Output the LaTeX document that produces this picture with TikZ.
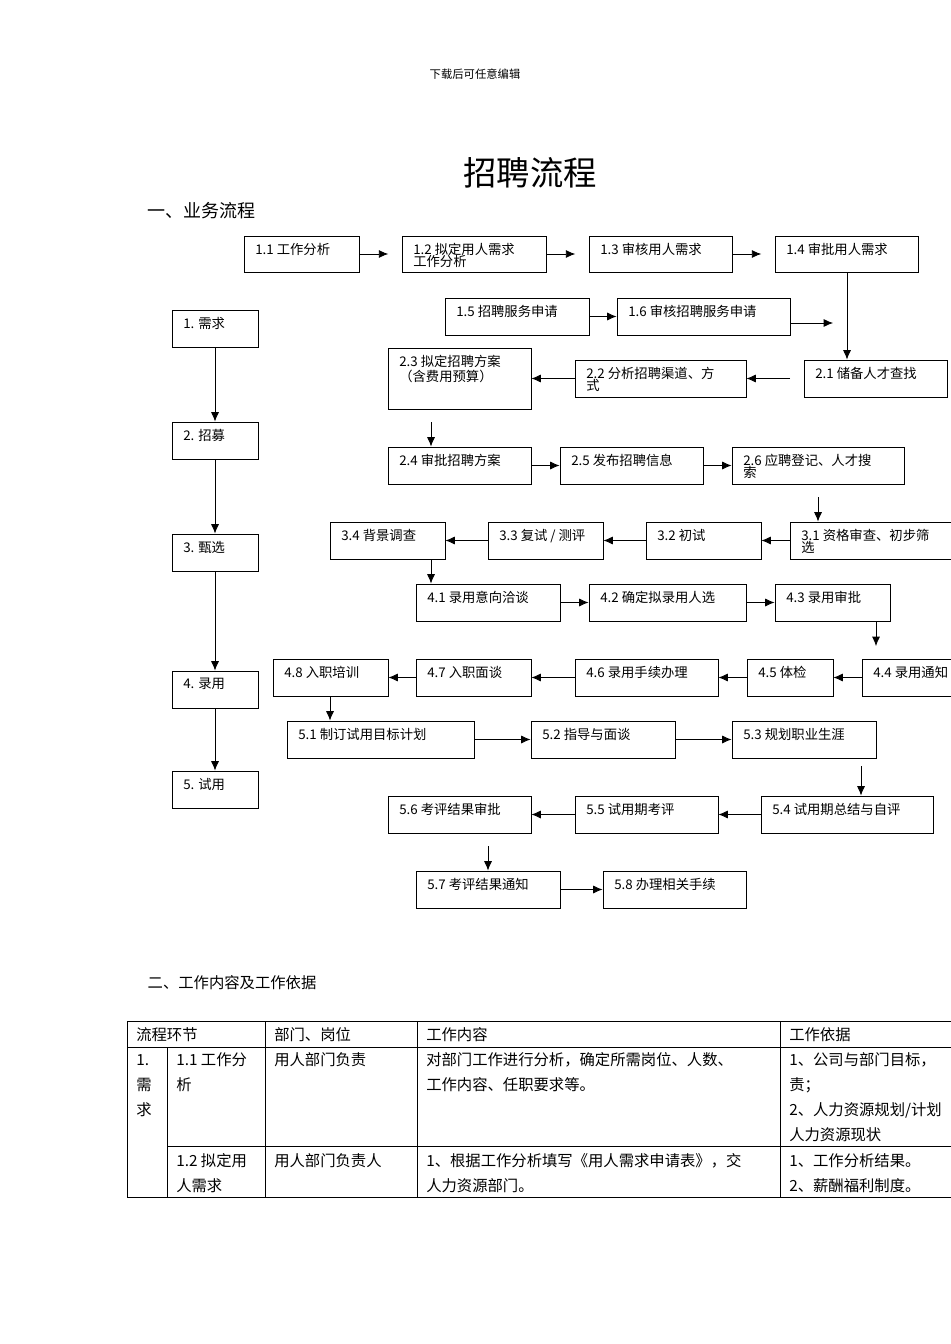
\documentclass[tikz,border=0pt]{standalone}
\usepackage{fontspec}
\setmainfont{Noto Sans CJK SC}
\usetikzlibrary{fit,calc}
\tikzset{arr/.style={-{Latex[length=7pt,width=6pt]},line width=0.6pt},
 boxs/.style={draw,line width=0.7pt,inner sep=0pt},
 btxt/.style={anchor=north west,inner sep=0pt,font=\fontsize{10}{11}\selectfont,align=left},
 ttxt/.style={anchor=base west,inner sep=0pt,font=\fontsize{11.5}{12}\selectfont}}
\usetikzlibrary{arrows.meta}
\newcommand\bx[6]{\path (#2,#3) coordinate (#1nw) (#4,#5) coordinate (#1se);
 \node[boxs,fit=(#1nw)(#1se)] (#1) {};
 \node[btxt] at (#2+11,#3+7) {#6};}
\begin{document}
\begin{tikzpicture}[x=0.75pt,y=-0.75pt]
\useasboundingbox (0,0) rectangle (950,1344);
\node[font=\fontsize{8.5}{9}\selectfont] (hdr) at (475,74) {下载后可任意编辑};
\node[font=\fontsize{25}{26}\selectfont] (title) at (530,173) {招聘流程};
\node[anchor=west,font=\fontsize{13.5}{14}\selectfont] (s1) at (143,211) {一、业务流程};
\node[anchor=west,font=\fontsize{11.5}{12}\selectfont] (s2) at (143,983) {二、工作内容及工作依据};
% left column
\bx{a1}{172}{310}{258}{347}{1. 需求}
\bx{a2}{172}{422}{258}{459}{2. 招募}
\bx{a3}{172}{534}{258}{571}{3. 甄选}
\bx{a4}{172}{671}{258}{708}{4. 录用}
\bx{a5}{172}{771}{258}{808}{5. 试用}
\foreach \p/\q in {a1/a2,a2/a3,a3/a4,a4/a5} \draw[arr] (\p) -- (\q);
% row 1
\bx{b11}{244}{236}{359}{272}{1.1 工作分析}
\bx{b12}{402}{236}{546}{272}{1.2 拟定用人需求\\[-2pt]工作分析}
\bx{b13}{589}{236}{732}{272}{1.3 审核用人需求}
\bx{b14}{775}{236}{918}{272}{1.4 审批用人需求}
\draw[arr,shorten >=10pt] (b11) -- (b12);
\draw[arr,shorten >=10pt] (b12) -- (b13);
\draw[arr,shorten >=10pt] (b13) -- (b14);
\bx{b15}{445}{298}{589}{335}{1.5 招聘服务申请}
\bx{b16}{617}{298}{790}{335}{1.6 审核招聘服务申请}
\coordinate (e16) at (833,323);
\draw[arr] (b15) -- (b16);
\draw[arr] (b16.east|-e16) -- (e16);
% row 2
\bx{b21}{804}{360}{947}{397}{2.1 储备人才查找}
\bx{b22}{575}{360}{746}{397}{2.2 分析招聘渠道、方\\[-2pt]式}
\bx{b23}{388}{348}{531}{409}{2.3 拟定招聘方案\\（含费用预算）}
\draw[arr] (b14.south-|847,0) -- (b21.north-|847,0);
\draw[arr,shorten <=10pt] (b21.west|-b22.east) -- (b22.east);
\draw[arr] (b22.west) -- (b22.west-|b23.east);
\coordinate (c23) at (431,422);
\bx{b24}{388}{447}{531}{484}{2.4 审批招聘方案}
\bx{b25}{560}{447}{703}{484}{2.5 发布招聘信息}
\bx{b26}{732}{447}{904}{484}{2.6 应聘登记、人才搜\\[-2pt]索}
\draw[arr] (c23) -- (c23|-b24.north);
\draw[arr] (b24) -- (b25);
\draw[arr] (b25) -- (b26);
% row 3
\coordinate (c26) at (818,497);
\bx{b31}{790}{522}{960}{559}{3.1 资格审查、初步筛\\[-2pt]选}
\bx{b32}{646}{522}{761}{559}{3.2 初试}
\bx{b33}{488}{522}{603}{559}{3.3 复试 / 测评}
\bx{b34}{330}{522}{445}{559}{3.4 背景调查}
\draw[arr] (c26) -- (c26|-b31.north);
\draw[arr] (b31.west|-b32.east) -- (b32.east);
\draw[arr] (b32) -- (b33);
\draw[arr] (b33) -- (b34);
% row 4
\bx{b41}{416}{584}{560}{621}{4.1 录用意向洽谈}
\bx{b42}{589}{584}{746}{621}{4.2 确定拟录用人选}
\bx{b43}{775}{584}{890}{621}{4.3 录用审批}
\draw[arr] (b34.south-|431,0) -- (b41.north-|431,0);
\draw[arr] (b41) -- (b42);
\draw[arr] (b42) -- (b43);
\bx{b44}{862}{659}{990}{696}{4.4 录用通知}
\bx{b45}{747}{659}{833}{696}{4.5 体检}
\bx{b46}{575}{659}{718}{696}{4.6 录用手续办理}
\bx{b47}{416}{659}{531}{696}{4.7 入职面谈}
\bx{b48}{273}{659}{388}{696}{4.8 入职培训}
\coordinate (c43) at (876,646);
\draw[arr] (b43.south-|c43) -- (c43);
\draw[arr] (b44.west|-b45.east) -- (b45.east);
\draw[arr] (b45) -- (b46);
\draw[arr] (b46) -- (b47);
\draw[arr] (b47) -- (b48);
% row 5
\bx{b51}{287}{721}{474}{758}{5.1 制订试用目标计划}
\bx{b52}{531}{721}{675}{758}{5.2 指导与面谈}
\bx{b53}{732}{721}{876}{758}{5.3 规划职业生涯}
\draw[arr] (b48.south-|330,0) -- (b51.north-|330,0);
\draw[arr] (b51) -- (b52);
\draw[arr] (b52) -- (b53);
\bx{b54}{761}{796}{933}{833}{5.4 试用期总结与自评}
\bx{b55}{575}{796}{718}{833}{5.5 试用期考评}
\bx{b56}{388}{796}{531}{833}{5.6 考评结果审批}
\coordinate (c53) at (861,766);
\draw[arr] (c53) -- (c53|-b54.north);
\draw[arr] (b54) -- (b55);
\draw[arr] (b55) -- (b56);
\bx{b57}{416}{871}{560}{908}{5.7 考评结果通知}
\bx{b58}{603}{871}{746}{908}{5.8 办理相关手续}
\coordinate (c56) at (488,846);
\draw[arr] (c56) -- (c56|-b57.north);
\draw[arr] (b57) -- (b58);
% table
\begin{scope}[line width=0.6pt]
\draw (990,1021) -- (127,1021) -- (127,1197) -- (990,1197);
\draw (127,1047) -- (990,1047);
\draw (167,1146) -- (990,1146);
\draw (167,1047) -- (167,1197);
\foreach \x in {265,417,780} \draw (\x,1021) -- (\x,1197);
\end{scope}
\node[ttxt] (h1) at (136,1040) {流程环节};
\node[ttxt] (h2) at (274,1040) {部门、岗位};
\node[ttxt] (h3) at (426,1040) {工作内容};
\node[ttxt] (h4) at (789,1040) {工作依据};
\node[ttxt] (r1a) at (136,1065) {1.};
\node[ttxt] (r1b) at (136,1090) {需};
\node[ttxt] (r1c) at (136,1115) {求};
\node[ttxt] (r2a) at (176,1065) {1.1 工作分};
\node[ttxt] (r2b) at (176,1090) {析};
\node[ttxt] (r2c) at (274,1065) {用人部门负责};
\node[ttxt] (r2d) at (426,1065) {对部门工作进行分析，确定所需岗位、人数、};
\node[ttxt] (r2e) at (426,1090) {工作内容、任职要求等。};
\node[ttxt] (r2f) at (789,1065) {1、公司与部门目标，};
\node[ttxt] (r2g) at (789,1090) {责；};
\node[ttxt] (r2h) at (789,1115) {2、人力资源规划/计划};
\node[ttxt] (r2i) at (789,1140) {人力资源现状};
\node[ttxt] (r3a) at (176,1166) {1.2 拟定用};
\node[ttxt] (r3b) at (176,1191) {人需求};
\node[ttxt] (r3c) at (274,1166) {用人部门负责人};
\node[ttxt] (r3d) at (426,1166) {1、根据工作分析填写《用人需求申请表》，交};
\node[ttxt] (r3e) at (426,1191) {人力资源部门。};
\node[ttxt] (r3f) at (789,1166) {1、工作分析结果。};
\node[ttxt] (r3g) at (789,1191) {2、薪酬福利制度。};
\end{tikzpicture}
\end{document}
